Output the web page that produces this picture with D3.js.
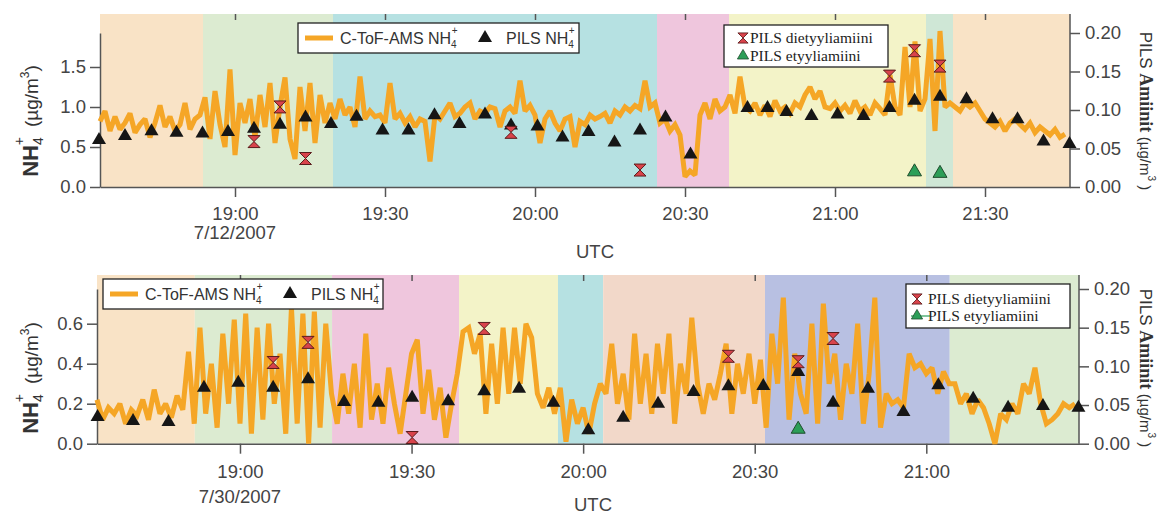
<!DOCTYPE html>
<html>
<head>
<meta charset="utf-8">
<script src="https://cdn.jsdelivr.net/npm/d3@7"></script>
<style>
  body { margin: 0; background: #fff; }
  svg { display: block; font-family: "Liberation Sans", Arial, sans-serif; }
</style>
</head>
<body>
<svg id="chart" width="1162" height="516"></svg>
<script>
// all times are minutes after 19:00 UTC of the given day

// ---- 7/12/2007 ----
const topAmsStart = -27;   // one AMS value per minute from here
const topAms = [
  0.82,0.95,0.70,0.88,0.72,0.80,0.92,0.68,0.78,0.85,
  0.62,0.80,1.02,0.75,0.88,0.70,0.78,1.05,0.72,0.85,
  0.90,1.12,0.60,1.20,0.78,0.50,1.47,0.40,1.05,0.80,
  1.10,0.62,1.15,0.75,1.30,0.55,1.00,1.37,0.60,0.35,
  1.25,0.70,1.30,0.55,1.15,0.80,1.05,0.85,1.10,0.90,
  1.00,0.75,1.38,0.85,0.95,0.88,0.90,0.80,1.30,0.85,
  0.92,0.80,0.88,0.75,0.85,0.82,0.32,0.90,0.85,0.95,
  1.05,0.88,0.92,1.00,1.05,0.85,0.95,0.92,1.00,0.98,
  0.75,0.95,1.00,0.92,1.33,0.95,1.02,0.90,0.55,0.85,
  0.95,0.80,0.70,0.85,0.88,0.50,0.82,0.78,0.90,0.85,
  0.88,0.92,0.80,0.95,0.90,1.00,0.95,1.02,0.98,1.33,
  1.00,1.05,0.80,0.85,0.70,0.78,0.65,0.13,0.20,0.15,
  0.90,1.05,0.85,1.10,0.95,1.00,1.15,0.92,1.38,1.00,
  0.95,1.05,0.90,1.02,0.88,1.08,0.95,1.00,0.92,1.05,
  1.00,1.15,1.25,1.10,1.20,1.00,0.98,1.05,0.95,1.02,
  0.92,1.08,0.95,1.00,0.90,1.05,0.98,0.90,1.40,1.00,
  0.90,1.75,1.00,1.82,0.95,1.10,1.85,0.70,1.95,1.00,
  1.05,1.00,0.95,1.05,1.00,1.05,0.95,0.85,0.80,0.75,
  0.82,0.70,0.80,0.85,0.78,0.72,0.80,0.68,0.75,0.70,
  0.65,0.72,0.62,0.66
];
const topPilsMin = [-27.2,-22,-16.7,-11.7,-6.5,-1.4,3.8,9,14.1,19.2,24.3,29.5,34.7,39.9,44.9,50,55.2,60.5,65.5,
  70.7,75.9,81,86.1,91.1,102.5,106.5,110.3,115.3,120.5,125.7,130.9,135.9,141,146.3,151.5,156.5,161.7,166.9];
const topPilsNh4 = [0.60,0.65,0.71,0.69,0.68,0.70,0.74,0.79,0.88,0.80,0.89,0.72,0.72,0.91,0.80,0.92,0.78,0.77,0.63,
  0.70,0.57,0.72,0.88,0.42,1.00,1.00,0.95,0.90,0.92,0.90,1.00,1.09,1.14,1.11,0.86,0.86,0.58,0.55];
const topDietMin = [3.8, 9, 14.1, 55.2, 81, 130.9, 135.9, 141];
const topDiet = [0.059, 0.104, 0.037, 0.071, 0.022, 0.144, 0.177, 0.157];
const topEtyMin = [135.9, 141];
const topEty = [0.021, 0.019];
const topBandEdges = [-27, -6.4, 19.6, 84.4, 98.8, 138.2, 143.6, 167];
const topBandColors = ['peach', 'green', 'cyan', 'pink', 'yellow', 'mint', 'peach'];

// ---- 7/30/2007 ----
const botAmsStart = -25;
const botAms = [
  0.22,0.12,0.18,0.15,0.20,0.10,0.17,0.14,0.22,0.12,
  0.27,0.15,0.20,0.13,0.24,0.17,0.46,0.10,0.58,0.15,
  0.40,0.08,0.55,0.20,0.62,0.10,0.65,0.05,0.58,0.12,
  0.60,0.20,0.45,0.05,0.68,0.10,0.65,0.00,0.66,0.08,
  0.60,0.25,0.10,0.35,0.15,0.40,0.08,0.55,0.12,0.30,
  0.10,0.38,0.20,0.05,0.25,0.45,0.52,0.15,0.37,0.12,
  0.28,0.03,0.20,0.35,0.56,0.58,0.45,0.55,0.15,0.50,
  0.20,0.58,0.25,0.58,0.30,0.60,0.53,0.25,0.18,0.28,
  0.15,0.28,0.01,0.22,0.10,0.18,0.05,0.20,0.30,0.25,
  0.50,0.20,0.35,0.12,0.55,0.20,0.45,0.15,0.50,0.25,
  0.55,0.10,0.40,0.25,0.63,0.30,0.15,0.30,0.22,0.35,
  0.50,0.15,0.40,0.25,0.45,0.20,0.42,0.08,0.55,0.30,
  0.73,0.12,0.45,0.25,0.15,0.60,0.10,0.70,0.30,0.45,
  0.12,0.40,0.25,0.60,0.10,0.35,0.73,0.08,0.25,0.20,
  0.22,0.18,0.45,0.38,0.40,0.35,0.38,0.25,0.36,0.30,
  0.30,0.20,0.25,0.15,0.22,0.18,0.10,0.00,0.15,0.12,
  0.20,0.15,0.30,0.25,0.38,0.20,0.10,0.12,0.15,0.20,
  0.18,0.20
];
const botPilsMin = [-24.9,-18.7,-12.5,-6.3,-0.3,5.8,11.9,18.2,24.2,30.1,36.4,42.7,48.8,54.8,60.9,67,73.1,79.3,
  85.4,91.5,97.6,103.7,109.8,116,122.1,128.2,134.3,140.4,146.6];
const botPilsNh4 = [0.138,0.118,0.113,0.285,0.31,0.285,0.327,0.213,0.21,0.235,0.217,0.267,0.28,0.21,0.072,0.135,
  0.205,0.264,0.292,0.293,0.363,0.21,0.28,0.163,0.297,0.23,0.185,0.194,0.185];
const botDietMin = [5.8, 11.9, 30.1, 42.7, 85.4, 97.6, 103.7];
const botDiet = [0.105, 0.131, 0.008, 0.149, 0.113, 0.106, 0.136];
const botEtyMin = [97.6];
const botEty = [0.020];
const botBandEdges = [-25, -7.9, 16.1, 38.3, 55.6, 63.5, 91.8, 124.1, 146.7];
const botBandColors = ['peach', 'green', 'pink', 'yellow', 'cyan', 'salmon', 'lavender', 'green'];

const leftTicksTop = [0, 0.5, 1.0, 1.5];
const leftTicksBot = [0, 0.2, 0.4, 0.6];
const rightTicks = [0, 0.05, 0.10, 0.15, 0.20];

const fills = {
  peach: '#f9e3c6', green: '#dcebd1', cyan: '#b6e1e2', pink: '#efc6dd',
  yellow: '#f3f3c8', mint: '#cfe7d6', salmon: '#f2d8c9', lavender: '#b8c0e2'
};
const orange = '#f5a626';
const axisCol = '#555';
const textCol = '#444';

const svg = d3.select('#chart');

function at(day, m) {
  return new Date(new Date(2007, 6, day, 19, 0, 0).getTime() + m * 60000);
}

const hourglass = 'M-6,-6L6,-6L0,0ZM-6,6L6,6L0,0Z';
const tri = 'M0,-7L7,5L-7,5Z';

function drawPanel(p) {
  const g = svg.append('g');
  const x = d3.scaleTime()
    .domain([at(p.day, p.xMin[0]), at(p.day, p.xMin[1])])
    .range([p.left, p.right]);
  const yL = d3.scaleLinear().domain([0, p.leftMax]).range([p.bottom, p.top]);
  const yR = d3.scaleLinear().domain([0, 0.2]).range([p.bottom, p.top]);

  // coloured periods
  g.selectAll('rect.band')
    .data(p.bandColors)
    .join('rect')
    .attr('x', (c, i) => x(at(p.day, p.bandEdges[i])))
    .attr('width', (c, i) => x(at(p.day, p.bandEdges[i + 1])) - x(at(p.day, p.bandEdges[i])))
    .attr('y', p.bgTop)
    .attr('height', p.bottom - p.bgTop)
    .attr('fill', c => fills[c]);

  const tickTimes = x.ticks(d3.timeMinute.every(30));

  // bottom axis
  const ax = g.append('g')
    .attr('transform', `translate(0,${p.bottom})`)
    .call(d3.axisBottom(x).tickValues(tickTimes).tickFormat(d3.timeFormat('%H:%M'))
      .tickSize(10).tickSizeOuter(0).tickPadding(p.xPad));
  // mirror ticks on top
  const axTop = g.append('g')
    .attr('transform', `translate(0,${p.bgTop})`)
    .call(d3.axisBottom(x).tickValues(tickTimes).tickFormat('').tickSize(6).tickSizeOuter(0));
  axTop.select('.domain').remove();

  const axL = g.append('g')
    .attr('transform', `translate(${p.left},0)`)
    .call(d3.axisLeft(yL).tickValues(p.leftTicks).tickFormat(d3.format('.1f'))
      .tickSize(10).tickSizeOuter(0).tickPadding(4));

  const axR = g.append('g')
    .attr('transform', `translate(${p.right},0)`)
    .call(d3.axisRight(yR).tickValues(rightTicks).tickFormat(d3.format('.2f'))
      .tickSize(10).tickSizeOuter(0).tickPadding(5));
  axR.select('.domain').remove();
  g.append('line')
    .attr('x1', p.right).attr('x2', p.right)
    .attr('y1', p.bgTop).attr('y2', p.bottom)
    .attr('stroke', axisCol).attr('stroke-width', 1.5);

  [ax, axTop, axL, axR].forEach(a => {
    a.selectAll('path,line').attr('stroke', axisCol).attr('stroke-width', 1.5);
    a.selectAll('text').attr('fill', textCol).attr('font-size', 18.5)
      .attr('font-family', '"Liberation Sans", Arial, sans-serif');
  });

  // AMS line
  const line = d3.line()
    .x((v, i) => x(at(p.day, p.amsStart + i)))
    .y(v => yL(v));
  g.append('path')
    .datum(p.ams)
    .attr('d', line)
    .attr('fill', 'none')
    .attr('stroke', orange)
    .attr('stroke-width', 5)
    .attr('stroke-linejoin', 'miter')
    .attr('stroke-miterlimit', 2);

  // PILS markers
  g.selectAll('path.nh4')
    .data(p.pils)
    .join('path')
    .attr('d', tri)
    .attr('transform', (v, i) => `translate(${x(at(p.day, p.pilsMin[i]))},${yL(v)})`)
    .attr('fill', '#161616');

  g.selectAll('path.diet')
    .data(p.diet)
    .join('path')
    .attr('d', hourglass)
    .attr('transform', (v, i) => `translate(${x(at(p.day, p.dietMin[i]))},${yR(v)})`)
    .attr('fill', '#d9434b')
    .attr('stroke', '#5b1c1c')
    .attr('stroke-width', 1);

  g.selectAll('path.ety')
    .data(p.ety)
    .join('path')
    .attr('d', tri)
    .attr('transform', (v, i) => `translate(${x(at(p.day, p.etyMin[i]))},${yR(v)})`)
    .attr('fill', '#2c9e58')
    .attr('stroke', '#1f4d2e')
    .attr('stroke-width', 1);

  // x labels
  g.append('text')
    .attr('x', x(at(p.day, 0))).attr('y', p.dateY)
    .attr('text-anchor', 'middle').attr('font-size', 18.5).attr('fill', textCol)
    .text(p.dateLabel);
  g.append('text')
    .attr('x', p.utcX).attr('y', p.utcY)
    .attr('text-anchor', 'middle').attr('font-size', 18.5).attr('fill', textCol)
    .text('UTC');

  // left y label
  const lt = g.append('text')
    .attr('transform', `translate(38,${p.leftLabelY}) rotate(-90)`)
    .attr('text-anchor', 'middle').attr('fill', '#333');
  lt.append('tspan').attr('font-size', 22).attr('font-weight', 'bold').text('NH');
  lt.append('tspan').attr('font-size', 14).attr('dy', 5).text('4');
  lt.append('tspan').attr('font-size', 14).attr('dy', -19).attr('dx', -8).text('+');
  lt.append('tspan').attr('font-size', 19).attr('dy', 14).attr('dx', 10).text('(µg/m');
  lt.append('tspan').attr('font-size', 12).attr('dy', -9).text('3');
  lt.append('tspan').attr('font-size', 19).attr('dy', 9).text(')');

  // right y label
  const rt = g.append('text')
    .attr('transform', `translate(1140,${p.rightLabelY}) rotate(90)`)
    .attr('text-anchor', 'middle').attr('fill', '#333');
  rt.append('tspan').attr('font-size', 17).text('PILS ');
  rt.append('tspan').attr('font-size', 18).attr('font-weight', 'bold')
    .attr('font-family', '"Liberation Serif", serif').text('Amiinit ');
  rt.append('tspan').attr('font-size', 15).text('(µg/m');
  rt.append('tspan').attr('font-size', 10).attr('dy', -8).text('3');
  rt.append('tspan').attr('font-size', 15).attr('dy', 8).text(' )');

  // legend: AMS + PILS NH4
  const L = p.leg1;
  const lg = g.append('g').attr('transform', `translate(${L.x},${L.y})`);
  lg.append('rect').attr('width', L.w).attr('height', 30)
    .attr('fill', '#fff').attr('stroke', '#222').attr('stroke-width', 1.3);
  lg.append('line').attr('x1', 7).attr('x2', 35).attr('y1', 15).attr('y2', 15)
    .attr('stroke', orange).attr('stroke-width', 5);
  const t1 = lg.append('text').attr('x', 42).attr('y', 21).attr('font-size', 16).attr('fill', '#333');
  t1.append('tspan').text('C-ToF-AMS NH');
  t1.append('tspan').attr('font-size', 10).attr('dy', 4).text('4');
  t1.append('tspan').attr('font-size', 10).attr('dy', -14).attr('dx', -5).text('+');
  lg.append('path').attr('d', tri).attr('transform', `translate(${L.triX},14)`).attr('fill', '#161616');
  const t2 = lg.append('text').attr('x', L.triX + 21).attr('y', 21).attr('font-size', 16).attr('fill', '#333');
  t2.append('tspan').text('PILS NH');
  t2.append('tspan').attr('font-size', 10).attr('dy', 4).text('4');
  t2.append('tspan').attr('font-size', 10).attr('dy', -14).attr('dx', -5).text('+');

  // legend: amines
  const R = p.leg2;
  const rg = g.append('g').attr('transform', `translate(${R.x},${R.y})`)
    .attr('font-family', '"Liberation Serif", serif');
  rg.append('rect').attr('width', 164).attr('height', R.h)
    .attr('fill', '#fff').attr('stroke', '#222').attr('stroke-width', 1.3);
  rg.append('path').attr('d', hourglass)
    .attr('transform', `translate(${R.mx},${R.r1 - 5}) scale(0.85)`)
    .attr('fill', '#d9434b').attr('stroke', '#5b1c1c').attr('stroke-width', 1);
  rg.append('text').attr('x', R.tx).attr('y', R.r1).attr('font-size', 15.5).attr('fill', '#222')
    .text('PILS dietyyliamiini');
  if (R.withLine) {
    rg.append('line').attr('x1', R.mx - 6).attr('x2', R.tx + 2).attr('y1', R.r2 - 5).attr('y2', R.r2 - 5)
      .attr('stroke', '#2c9e58').attr('stroke-width', 1.2);
  }
  rg.append('path').attr('d', tri)
    .attr('transform', `translate(${R.mx},${R.r2 - 6}) scale(0.8)`)
    .attr('fill', '#2c9e58').attr('stroke', '#1f4d2e').attr('stroke-width', 1);
  rg.append('text').attr('x', R.tx).attr('y', R.r2).attr('font-size', 15.5).attr('fill', '#222')
    .text('PILS etyyliamiini');
}

drawPanel({
  day: 12, xMin: [-27, 167], left: 100, right: 1070, bottom: 187, top: 33, bgTop: 14,
  leftMax: 1.925, leftTicks: leftTicksTop, xPad: 10,
  amsStart: topAmsStart, ams: topAms,
  pilsMin: topPilsMin, pils: topPilsNh4,
  dietMin: topDietMin, diet: topDiet, etyMin: topEtyMin, ety: topEty,
  bandEdges: topBandEdges, bandColors: topBandColors,
  dateLabel: '7/12/2007', dateY: 239, utcX: 595, utcY: 258,
  leftLabelY: 121, rightLabelY: 111,
  leg1: { x: 298, y: 23, w: 281, triX: 187 },
  leg2: { x: 724, y: 25, h: 42, mx: 19, tx: 26, r1: 18, r2: 36, withLine: false }
});

drawPanel({
  day: 30, xMin: [-25, 146.7], left: 97, right: 1079, bottom: 443.7, top: 289, bgTop: 275,
  leftMax: 0.7735, leftTicks: leftTicksBot, xPad: 11,
  amsStart: botAmsStart, ams: botAms,
  pilsMin: botPilsMin, pils: botPilsNh4,
  dietMin: botDietMin, diet: botDiet, etyMin: botEtyMin, ety: botEty,
  bandEdges: botBandEdges, bandColors: botBandColors,
  dateLabel: '7/30/2007', dateY: 503, utcX: 593, utcY: 511,
  leftLabelY: 378, rightLabelY: 368,
  leg1: { x: 103, y: 279, w: 280, triX: 187 },
  leg2: { x: 906, y: 284, h: 44, mx: 11, tx: 22, r1: 20, r2: 37, withLine: true }
});
</script>
</body>
</html>
